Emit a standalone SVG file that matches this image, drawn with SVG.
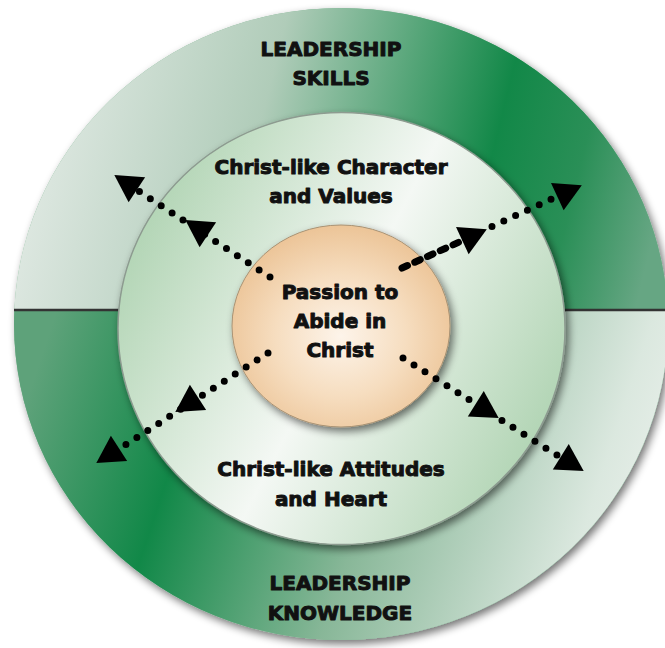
<svg xmlns="http://www.w3.org/2000/svg" width="665" height="648" viewBox="0 0 665 648">
  <style>
    .lbl { font-family: "DejaVu Sans", "Liberation Sans", sans-serif; font-weight: bold; font-size: 20px; fill: #111; stroke: #111; stroke-width: 1; stroke-linejoin: round; text-anchor: middle; }
    .dots { fill: none; stroke: #000; stroke-width: 7; stroke-linecap: round; stroke-dasharray: 0 13; }
    .dash { fill: none; stroke: #000; stroke-width: 7; stroke-linecap: round; stroke-dasharray: 6 8; }
    .head { fill: #000; }
    .divider { stroke: #333; stroke-width: 2.5; }
  </style>
  <defs>
    <filter id="shadow" x="-10%" y="-10%" width="125%" height="125%">
      <feGaussianBlur in="SourceAlpha" stdDeviation="4"/>
      <feOffset dx="3" dy="4" result="b"/>
      <feComponentTransfer><feFuncA type="linear" slope="0.55"/></feComponentTransfer>
      <feMerge><feMergeNode/><feMergeNode in="SourceGraphic"/></feMerge>
    </filter>
    <linearGradient id="outerTop" gradientUnits="userSpaceOnUse" x1="40" y1="100" x2="650" y2="250">
      <stop offset="0" stop-color="#e0e9e3"/>
      <stop offset="0.35" stop-color="#b0ccb9"/>
      <stop offset="0.72" stop-color="#128848"/>
      <stop offset="0.86" stop-color="#2a8f57"/>
      <stop offset="1" stop-color="#66a683"/>
    </linearGradient>
    <linearGradient id="outerBot" gradientUnits="userSpaceOnUse" x1="40" y1="360" x2="640" y2="560">
      <stop offset="0" stop-color="#5ea27a"/>
      <stop offset="0.25" stop-color="#118848"/>
      <stop offset="0.56" stop-color="#88b798"/>
      <stop offset="0.9" stop-color="#dbe8df"/>
      <stop offset="1" stop-color="#e8efea"/>
    </linearGradient>
    <linearGradient id="mid" gradientUnits="userSpaceOnUse" x1="118" y1="212" x2="565" y2="442">
      <stop offset="0" stop-color="#abd1ae"/>
      <stop offset="0.5" stop-color="#f4f8f4"/>
      <stop offset="1" stop-color="#abd1ae"/>
    </linearGradient>
    <radialGradient id="core" cx="0.5" cy="0.55" r="0.55">
      <stop offset="0" stop-color="#fdf4ea"/>
      <stop offset="0.55" stop-color="#f6ddbf"/>
      <stop offset="1" stop-color="#ecc497"/>
    </radialGradient>
    <clipPath id="topHalf"><rect x="0" y="0" width="665" height="310"/></clipPath>
    <clipPath id="botHalf"><rect x="0" y="310" width="665" height="338"/></clipPath>
    <polygon id="tri" points="2,0 -25,-15 -25,15"/>
  </defs>

  <g id="outer-ring">
    <g filter="url(#shadow)">
      <ellipse cx="341" cy="324" rx="327" ry="316" fill="#7fb391"/>
    </g>
    <ellipse cx="341" cy="324" rx="327" ry="316" fill="url(#outerTop)" clip-path="url(#topHalf)"/>
    <ellipse cx="341" cy="324" rx="327" ry="316" fill="url(#outerBot)" clip-path="url(#botHalf)"/>
    <line class="divider" x1="14" y1="310" x2="665" y2="310"/>
    <text class="lbl" x="331" y="56">LEADERSHIP</text>
    <text class="lbl" x="331" y="85">SKILLS</text>
    <text class="lbl" x="340" y="590">LEADERSHIP</text>
    <text class="lbl" x="340" y="620">KNOWLEDGE</text>
  </g>

  <g id="middle-ring">
    <ellipse cx="341.5" cy="328.5" rx="223.5" ry="216" fill="url(#mid)" stroke="#8d9b90" stroke-width="1.5" filter="url(#shadow)"/>
    <text class="lbl" x="331" y="174">Christ-like Character</text>
    <text class="lbl" x="331" y="203">and Values</text>
    <text class="lbl" x="331" y="476">Christ-like Attitudes</text>
    <text class="lbl" x="331" y="506">and Heart</text>
  </g>

  <g id="core-circle">
    <ellipse cx="341" cy="326" rx="109" ry="101" fill="url(#core)" stroke="#a99273" stroke-width="1" filter="url(#shadow)"/>
    <text class="lbl" x="340" y="299">Passion to</text>
    <text class="lbl" x="340" y="328">Abide in</text>
    <text class="lbl" x="340" y="357">Christ</text>
  </g>

  <g id="connectors">
    <!-- upper left -->
    <line class="dots" x1="270" y1="277" x2="137" y2="190"/>
    <use href="#tri" class="head" transform="translate(187,221) rotate(213.4)"/>
    <use href="#tri" class="head" transform="translate(116,176) rotate(213.4)"/>
    <!-- upper right -->
    <line class="dash" x1="402" y1="268" x2="466" y2="239"/>
    <line class="dots" x1="492" y1="226.5" x2="558" y2="196"/>
    <use href="#tri" class="head" transform="translate(485,230) rotate(-24.9)"/>
    <use href="#tri" class="head" transform="translate(580,186) rotate(-24.9)"/>
    <!-- lower left -->
    <line class="dots" x1="268" y1="353" x2="119" y2="449"/>
    <use href="#tri" class="head" transform="translate(177,411) rotate(147.2)"/>
    <use href="#tri" class="head" transform="translate(98,462) rotate(147.2)"/>
    <!-- lower right -->
    <line class="dots" x1="403" y1="358" x2="560" y2="457"/>
    <use href="#tri" class="head" transform="translate(497,417) rotate(32)"/>
    <use href="#tri" class="head" transform="translate(582,470) rotate(32)"/>
  </g>
</svg>
